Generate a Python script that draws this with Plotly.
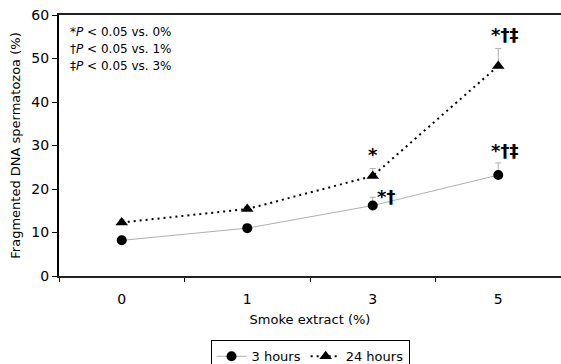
import plotly.graph_objects as go

categories = ["0", "1", "3", "5"]
hours3 = [8.2, 11.0, 16.2, 23.2]
hours3_err = [0.6, 0.5, 1.9, 2.8]
hours24 = [12.3, 15.4, 23.0, 48.3]
hours24_err = [0.6, 0.6, 1.7, 4.0]
sig3 = ["", "", "*†", "*†‡"]
sig24 = ["", "", "*", "*†‡"]
footnotes = ["*<i>P</i> < 0.05 vs. 0%", "†<i>P</i> < 0.05 vs. 1%", "‡<i>P</i> < 0.05 vs. 3%"]

FONT = "DejaVu Sans"

fig = go.Figure()
fig.add_trace(go.Scatter(
    x=categories, y=hours3, name="3 hours", mode="lines+markers",
    line=dict(color="#b0b0b0", width=1),
    marker=dict(symbol="circle", size=10, color="black"),
    error_y=dict(type="data", array=hours3_err, arrayminus=[0]*4, symmetric=False,
                 color="#b0b0b0", thickness=1, width=3),
))
fig.add_trace(go.Scatter(
    x=categories, y=hours24, name="24 hours", mode="lines+markers",
    line=dict(color="black", width=2, dash="2px,4px"),
    marker=dict(symbol="triangle-up", size=11, color="black"),
    error_y=dict(type="data", array=hours24_err, arrayminus=[0]*4, symmetric=False,
                 color="#b0b0b0", thickness=1, width=3),
))

for i, (v, e, s) in enumerate(zip(hours3, hours3_err, sig3)):
    if s:
        fig.add_annotation(x=i, y=v + e, text="<b>" + s + "</b>", showarrow=False, xanchor="left",
                           yanchor="bottom", xshift=2 if len(s) == 2 else -9, yshift=-12 if len(s) == 2 else 0,
                           font=dict(family=FONT, size=18, color="black"))
for i, (v, e, s) in enumerate(zip(hours24, hours24_err, sig24)):
    if s:
        fig.add_annotation(x=i, y=v + e, text="<b>" + s + "</b>", showarrow=False,
                           xanchor="center" if len(s) == 1 else "left",
                           yanchor="bottom", xshift=0 if len(s) == 1 else -9, yshift=2,
                           font=dict(family=FONT, size=18, color="black"))

for i, t in enumerate(footnotes):
    fig.add_annotation(xref="paper", yref="paper", x=0.018, y=0.935 - i * 0.066,
                       text=t, showarrow=False, xanchor="left", yanchor="middle",
                       font=dict(family=FONT, size=12, color="black"))

fig.update_layout(
    width=561, height=364,
    margin=dict(l=59, r=0, t=15, b=88),
    paper_bgcolor="white", plot_bgcolor="white",
    font=dict(family=FONT, size=13, color="black"),
    showlegend=True,
    legend=dict(orientation="h", xref="paper", yref="container", x=0.5, xanchor="center",
                y=0.065, yanchor="top",
                bordercolor="black", borderwidth=1, font=dict(size=13),
                itemwidth=30, tracegroupgap=0),
    xaxis=dict(type="category", range=[-0.5, 3.5], tickson="boundaries", ticks="outside", ticklen=4,
               tickcolor="black", showline=True, linecolor="#222", linewidth=2,
               mirror=True, showgrid=False, zeroline=False, ticklabelstandoff=9,
               title=dict(text="Smoke extract (%)", font=dict(size=13), standoff=9),
               tickfont=dict(size=14), automargin=False),
    yaxis=dict(range=[0, 60], dtick=10, ticks="outside", ticklen=5, tickcolor="black",
               showline=True, linecolor="black", linewidth=2, showgrid=False,
               zeroline=False, tickfont=dict(size=14), automargin=False,
               title=dict(text="Fragmented DNA spermatozoa (%)", font=dict(size=13),
                          standoff=8)),
)

fig.write_html("out.html")
